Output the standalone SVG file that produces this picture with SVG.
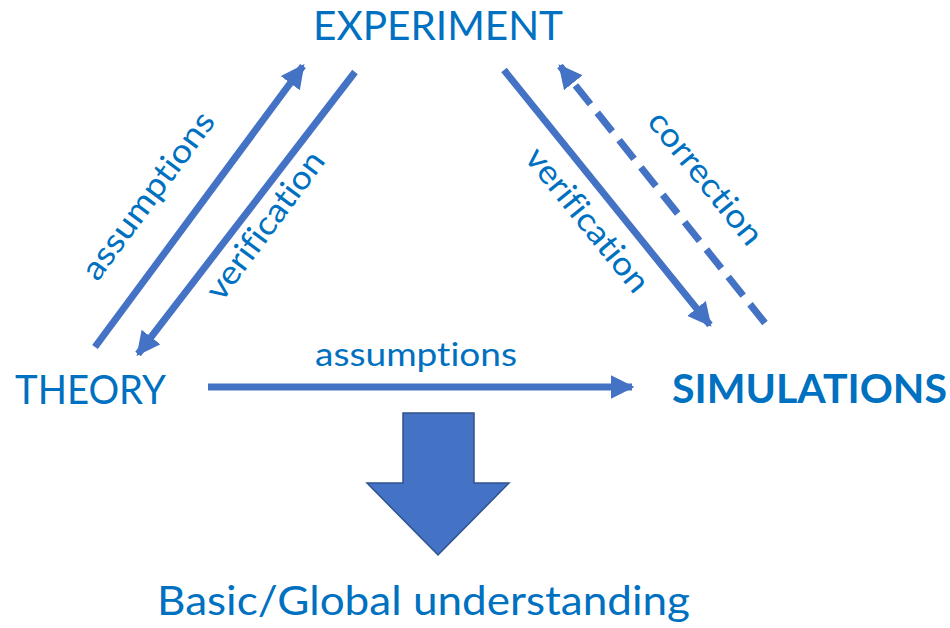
<svg xmlns="http://www.w3.org/2000/svg" width="950" height="628" viewBox="0 0 950 628">
  <style>
    .lbl { font-family: Lato, "Open Sans", "Liberation Sans", sans-serif; fill: #0070C0; font-variant-ligatures: none; }
    .node { font-size: 40px; }
    .edge { font-size: 33px; }
    .ln { stroke: #4472C4; stroke-width: 7; fill: none; }
    .dash { stroke-dasharray: 24 11; }
  </style>
  <defs>
    <marker id="head" viewBox="0 0 10 10" refX="9" refY="5" markerWidth="3.4" markerHeight="3.4" orient="auto" markerUnits="strokeWidth">
      <path d="M0,0 L10,5 L0,10 z" fill="#4472C4"/>
    </marker>
  </defs>

  <rect width="950" height="628" fill="#ffffff"/>

  <!-- nodes -->
  <g id="experiment">
    <text class="lbl node" x="438" y="40" text-anchor="middle" font-size="39" textLength="250" lengthAdjust="spacingAndGlyphs">EXPERIMENT</text>
  </g>
  <g id="theory">
    <text class="lbl node" x="15" y="404" textLength="151" lengthAdjust="spacingAndGlyphs">THEORY</text>
  </g>
  <g id="simulations">
    <text class="lbl node" x="672" y="403" font-weight="bold" textLength="275" lengthAdjust="spacingAndGlyphs">SIMULATIONS</text>
  </g>
  <g id="understanding">
    <text class="lbl node" x="157" y="615" textLength="533" lengthAdjust="spacingAndGlyphs">Basic/Global understanding</text>
    <path d="M403,413 L474,413 L474,483 L509,483 L438,555 L367,483 L403,483 Z" fill="#4472C4" stroke="#2F528F" stroke-width="1.5"/>
  </g>

  <!-- connectors -->
  <g id="connectors">
    <line class="ln" x1="95" y1="347" x2="303" y2="66" marker-end="url(#head)"/>
    <line class="ln" x1="355" y1="72" x2="138" y2="354" marker-end="url(#head)"/>
    <line class="ln" x1="504" y1="70" x2="710" y2="325" marker-end="url(#head)"/>
    <line class="ln dash" x1="765" y1="323" x2="560" y2="66" marker-end="url(#head)"/>
    <line class="ln" x1="208" y1="387" x2="632" y2="387" marker-end="url(#head)"/>

    <text class="lbl edge" transform="translate(157,202) rotate(-53.5)" text-anchor="middle" textLength="200" lengthAdjust="spacingAndGlyphs">assumptions</text>
    <text class="lbl edge" transform="translate(274,232) rotate(-53.5)" text-anchor="middle" textLength="176" lengthAdjust="spacingAndGlyphs">verification</text>
    <text class="lbl edge" transform="translate(579,227) rotate(51)" text-anchor="middle" textLength="176" lengthAdjust="spacingAndGlyphs">verification</text>
    <text class="lbl edge" transform="translate(697,185) rotate(51)" text-anchor="middle" textLength="162" lengthAdjust="spacingAndGlyphs">correction</text>
    <text class="lbl edge" x="416" y="366" text-anchor="middle" textLength="202" lengthAdjust="spacingAndGlyphs">assumptions</text>
  </g>
</svg>
